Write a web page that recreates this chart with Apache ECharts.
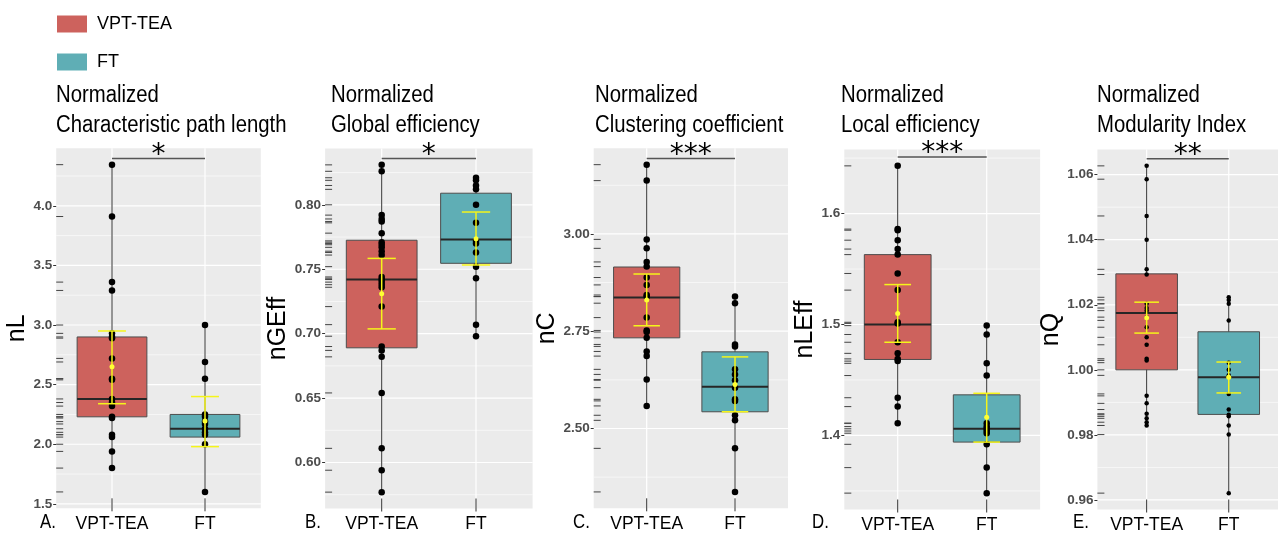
<!DOCTYPE html>
<html><head><meta charset="utf-8">
<script src="https://cdn.jsdelivr.net/npm/echarts@6/dist/echarts.min.js"></script>
<style>html,body{margin:0;padding:0;background:#fff}#c{width:1278px;height:538px}</style>
</head><body><div id="c"></div>
<script>
// ---------- DATA ----------
const groups = ['VPT-TEA', 'FT'];
const panelLetters = ['A.', 'B.', 'C.', 'D.', 'E.'];
const panelTitles = [
  ['Normalized', 'Characteristic path length'],
  ['Normalized', 'Global efficiency'],
  ['Normalized', 'Clustering coefficient'],
  ['Normalized', 'Local efficiency'],
  ['Normalized', 'Modularity Index']
];
const yNames = ['nL', 'nGEff', 'nC', 'nLEff', 'nQ'];
const sigStars = ['*', '*', '***', '***', '**'];

// A: nL
const nL_VPT = [4.345, 3.91, 3.36, 3.29, 2.93, 2.90, 2.89, 2.72, 2.55, 2.54, 2.38, 2.35, 2.32, 2.23, 2.22, 2.08, 2.06, 1.94, 1.80];
const nL_FT = [3.00, 2.69, 2.55, 2.25, 2.23, 2.19, 2.17, 2.13, 2.10, 2.08, 2.00, 1.60];
const nL_box = [[1.80, 2.23, 2.38, 2.90, 4.345], [1.60, 2.06, 2.13, 2.25, 3.00]]; // min,q1,med,q3,max
const nL_mean = [[2.65, 2.34, 2.95], [2.195, 1.98, 2.40]]; // mean, lo, hi
const nL_ticks = [1.5, 2.0, 2.5, 3.0, 3.5, 4.0];
const nL_sigY = 4.396;

// B: nGEff
const nGEff_VPT = [0.831, 0.826, 0.792, 0.789, 0.787, 0.778, 0.771, 0.769, 0.767, 0.764, 0.761, 0.744, 0.742, 0.740, 0.738, 0.736, 0.721, 0.690, 0.687, 0.682, 0.654, 0.611, 0.594, 0.577];
const nGEff_FT = [0.821, 0.819, 0.815, 0.812, 0.800, 0.786, 0.772, 0.770, 0.763, 0.752, 0.743, 0.707, 0.698];
const nGEff_box = [[0.577, 0.689, 0.742, 0.7725, 0.831], [0.698, 0.7546, 0.773, 0.809, 0.821]];
const nGEff_mean = [[0.731, 0.7037, 0.7584], [0.7736, 0.7533, 0.7944]];
const nGEff_ticks = [0.60, 0.65, 0.70, 0.75, 0.80];
const nGEff_sigY = 0.836;

// C: nC
const nC_VPT = [3.178, 3.137, 2.986, 2.963, 2.928, 2.916, 2.888, 2.869, 2.843, 2.839, 2.785, 2.752, 2.748, 2.733, 2.698, 2.686, 2.626, 2.558];
const nC_FT = [2.839, 2.822, 2.716, 2.711, 2.652, 2.639, 2.624, 2.605, 2.575, 2.571, 2.534, 2.521, 2.449, 2.337];
const nC_box = [[2.558, 2.733, 2.8365, 2.915, 3.178], [2.337, 2.543, 2.607, 2.697, 2.839]];
const nC_mean = [[2.8305, 2.764, 2.897], [2.613, 2.543, 2.684]];
const nC_ticks = [2.50, 2.75, 3.00];
const nC_sigY = 3.194;

// D: nLEff
const nLEff_VPT = [1.643, 1.586, 1.585, 1.576, 1.568, 1.563, 1.546, 1.531, 1.502, 1.501, 1.484, 1.474, 1.469, 1.467, 1.434, 1.426, 1.411];
const nLEff_FT = [1.499, 1.491, 1.465, 1.454, 1.411, 1.408, 1.406, 1.404, 1.402, 1.392, 1.371, 1.348];
const nLEff_box = [[1.411, 1.4685, 1.500, 1.563, 1.643], [1.348, 1.394, 1.406, 1.4366, 1.499]];
const nLEff_mean = [[1.510, 1.484, 1.536], [1.4165, 1.394, 1.438]];
const nLEff_ticks = [1.4, 1.5, 1.6];
const nLEff_sigY = 1.651;

// E: nQ
const nQ_VPT = [1.0627, 1.0586, 1.0473, 1.040, 1.0309, 1.0293, 1.0203, 1.019, 1.0182, 1.0162, 1.0131, 1.010, 1.0077, 1.0034, 1.0029, 0.992, 0.9897, 0.9865, 0.9851, 0.9839, 0.9829];
const nQ_FT = [1.0223, 1.0215, 1.0203, 1.0152, 1.0022, 1.000, 0.9983, 0.9926, 0.9878, 0.9862, 0.9857, 0.9829, 0.9801, 0.9621];
const nQ_box = [[0.9829, 1.000, 1.0175, 1.0295, 1.0627], [0.9621, 0.9863, 0.9977, 1.0117, 1.0223]];
const nQ_mean = [[1.016, 1.0113, 1.0208], [0.9977, 0.9929, 1.0024]];
const nQ_ticks = [0.96, 0.98, 1.00, 1.02, 1.04, 1.06];
const nQ_sigY = 1.0649;

// ---------- LAYOUT / STYLE ----------
const SANS = '"Liberation Sans", Arial, sans-serif';
const COLORS = ['#CD625D', '#5FAEB5'];
const layout = [
  {left: 56.2, width: 204.6, top: 148.3, nameGap: 24, dec: 1, titleLeft: 56, letterLeft: 40, pt: 6.5},
  {left: 325.1, width: 207.5, top: 148.5, nameGap: 34, dec: 2, titleLeft: 331, letterLeft: 305, pt: 6.5},
  {left: 593.7, width: 194.3, top: 148.3, nameGap: 30, dec: 2, titleLeft: 595, letterLeft: 573, pt: 6.5},
  {left: 844.3, width: 195.8, top: 149.5, nameGap: 22, dec: 1, titleLeft: 841, letterLeft: 812, pt: 6.5},
  {left: 1097.4, width: 193, top: 149.5, nameGap: 31, dec: 2, titleLeft: 1097, letterLeft: 1073, pt: 4.5}
];
const PH = 360;

const panels = [
  {vpt: nL_VPT, ft: nL_FT, box: nL_box, mean: nL_mean, ticks: nL_ticks, sig: nL_sigY},
  {vpt: nGEff_VPT, ft: nGEff_FT, box: nGEff_box, mean: nGEff_mean, ticks: nGEff_ticks, sig: nGEff_sigY},
  {vpt: nC_VPT, ft: nC_FT, box: nC_box, mean: nC_mean, ticks: nC_ticks, sig: nC_sigY},
  {vpt: nLEff_VPT, ft: nLEff_FT, box: nLEff_box, mean: nLEff_mean, ticks: nLEff_ticks, sig: nLEff_sigY},
  {vpt: nQ_VPT, ft: nQ_FT, box: nQ_box, mean: nQ_mean, ticks: nQ_ticks, sig: nQ_sigY}
];

const chart = echarts.init(document.getElementById('c'), null, {renderer: 'canvas'});
const option = {
  animation: false,
  backgroundColor: '#fff',
  grid: [], xAxis: [], yAxis: [], series: [], graphic: [],
  legend: {
    data: groups, orient: 'vertical', left: 57, top: 15, padding: 0,
    icon: 'rect', itemWidth: 30, itemHeight: 17, itemGap: 20,
    textStyle: {fontSize: 18, lineHeight: 17, fontFamily: SANS, color: '#000', padding: [0, 0, 0, 5]},
    selectedMode: false
  }
};

function gridRender(params, api) {
  const cs = params.coordSys;
  const orient = api.value(0), v = api.value(1), w = api.value(2);
  if (orient === 0) {
    const y = api.coord([1, v])[1];
    return {type: 'line', silent: true, shape: {x1: cs.x, y1: y, x2: cs.x + cs.width, y2: y}, style: {stroke: '#fff', lineWidth: w}};
  }
  const x = api.coord([v, 0])[0];
  return {type: 'line', silent: true, shape: {x1: x, y1: cs.y, x2: x, y2: cs.y + cs.height}, style: {stroke: '#fff', lineWidth: w}};
}
function rugRender(params, api) {
  const cs = params.coordSys;
  const y = api.coord([1, api.value(1)])[1];
  return {type: 'line', silent: true, shape: {x1: cs.x, y1: y, x2: cs.x + 7, y2: y}, style: {stroke: '#444', lineWidth: 1}};
}
function xtickRender(params, api) {
  const cs = params.coordSys;
  const x = api.coord([api.value(0), 0])[0];
  const b = cs.y + cs.height;
  return {type: 'line', silent: true, shape: {x1: x, y1: b - 10, x2: x, y2: b + 3}, style: {stroke: '#333', lineWidth: 1}};
}
function boxRender(params, api) {
  const x = api.value(0);
  const mn = api.value(1), q1 = api.value(2), md = api.value(3), q3 = api.value(4), mx = api.value(5);
  const half = 0.375;
  const a = api.coord([x, mn]), b = api.coord([x, mx]);
  const tl = api.coord([x - half, q3]), br = api.coord([x + half, q1]);
  const ml = api.coord([x - half, md]), mr = api.coord([x + half, md]);
  return {type: 'group', children: [
    {type: 'line', shape: {x1: a[0], y1: a[1], x2: b[0], y2: b[1]}, style: {stroke: '#333', lineWidth: 1}},
    {type: 'rect', shape: {x: tl[0], y: tl[1], width: br[0] - tl[0], height: br[1] - tl[1]}, style: {fill: api.visual('color'), stroke: '#4d4d4d', lineWidth: 1}},
    {type: 'line', shape: {x1: ml[0], y1: ml[1], x2: mr[0], y2: mr[1]}, style: {stroke: '#262626', lineWidth: 2}}
  ]};
}
function errRender(params, api) {
  const x = api.value(0), m = api.value(1), lo = api.value(2), hi = api.value(3);
  const cap = 0.15;
  const pl = api.coord([x, lo]), ph = api.coord([x, hi]), pm = api.coord([x, m]);
  const l1 = api.coord([x - cap, lo]), r1 = api.coord([x + cap, lo]);
  const l2 = api.coord([x - cap, hi]), r2 = api.coord([x + cap, hi]);
  const st = {stroke: '#F5F51A', lineWidth: 1.5};
  return {type: 'group', children: [
    {type: 'line', shape: {x1: pl[0], y1: pl[1], x2: ph[0], y2: ph[1]}, style: st},
    {type: 'line', shape: {x1: l1[0], y1: l1[1], x2: r1[0], y2: r1[1]}, style: st},
    {type: 'line', shape: {x1: l2[0], y1: l2[1], x2: r2[0], y2: r2[1]}, style: st},
    {type: 'circle', shape: {cx: pm[0], cy: pm[1], r: 2.5}, style: {fill: '#FFFF33'}}
  ]};
}
function makeSigRender(text) {
  return function (params, api) {
    const a = api.coord([api.value(0), api.value(2)]);
    const b = api.coord([api.value(1), api.value(2)]);
    return {type: 'group', children: [
      {type: 'line', shape: {x1: a[0], y1: a[1], x2: b[0], y2: b[1]}, style: {stroke: '#555', lineWidth: 1.5}},
      {type: 'text', x: (a[0] + b[0]) / 2, y: a[1] + 11, style: {text: text, fill: '#000', fontSize: 28, fontFamily: 'DejaVu Sans, sans-serif', align: 'center', verticalAlign: 'bottom'}}
    ]};
  };
}

panels.forEach((p, i) => {
  const L = layout[i];
  const all = p.vpt.concat(p.ft);
  const dmin = Math.min(...all), dmax = Math.max(...all);
  const pad = (dmax - dmin) * 0.05;
  const ymin = dmin - pad, ymax = dmax + pad;
  option.grid.push({left: L.left, top: L.top, width: L.width, height: PH, show: true, backgroundColor: '#EBEBEB', borderWidth: 0});
  option.xAxis.push({
    gridIndex: i, type: 'value', min: 0.4, max: 2.6,
    axisLine: {show: false}, axisTick: {show: false}, splitLine: {show: false},
    axisLabel: {customValues: [1, 2], formatter: v => groups[Math.round(v) - 1], fontSize: 17.5, fontFamily: SANS, color: '#000', margin: 7}
  });
  option.yAxis.push({
    gridIndex: i, type: 'value', min: ymin, max: ymax,
    axisLine: {show: false}, splitLine: {show: false},
    axisTick: {show: true, customValues: p.ticks, length: 3, lineStyle: {color: '#333'}},
    axisLabel: {customValues: p.ticks, formatter: v => v.toFixed(L.dec), fontSize: 13.5, fontWeight: 'bold', color: '#4D4D4D', fontFamily: SANS, margin: 4},
    name: yNames[i], nameLocation: 'middle', nameGap: L.nameGap,
    nameTextStyle: {fontSize: 25, fontFamily: SANS, color: '#000'}
  });
  const step = p.ticks[1] - p.ticks[0];
  const gl = [];
  p.ticks.forEach(t => gl.push([0, t, 1.2]));
  for (let k = -1; k < p.ticks.length; k++) {
    const mv = p.ticks[0] + (k + 0.5) * step;
    if (mv > ymin && mv < ymax) gl.push([0, mv, 0.6]);
  }
  gl.push([1, 1, 1.2], [1, 2, 1.2]);
  const base = {coordinateSystem: 'cartesian2d', xAxisIndex: i, yAxisIndex: i, silent: true};
  option.series.push(Object.assign({type: 'custom', name: 'grid' + i, z: 0, renderItem: gridRender, data: gl}, base));
  option.series.push(Object.assign({type: 'custom', name: 'rug' + i, z: 1, renderItem: rugRender, data: all.map(v => [1, v])}, base));
  option.series.push(Object.assign({type: 'custom', name: 'xt' + i, z: 1, renderItem: xtickRender, data: [[1, 0], [2, 0]], clip: false}, base));
  groups.forEach((g, gi) => {
    option.series.push(Object.assign({type: 'custom', name: g, z: 2, itemStyle: {color: COLORS[gi]}, renderItem: boxRender,
      data: [[gi + 1].concat(p.box[gi])]}, base));
  });
  option.series.push(Object.assign({type: 'scatter', name: 'pts' + i, z: 3, symbolSize: L.pt, itemStyle: {color: '#000', opacity: 1},
    data: p.vpt.map(v => [1, v]).concat(p.ft.map(v => [2, v]))}, base));
  option.series.push(Object.assign({type: 'custom', name: 'err' + i, z: 4, renderItem: errRender,
    data: p.mean.map((m, gi) => [gi + 1].concat(m))}, base));
  option.series.push(Object.assign({type: 'custom', name: 'sig' + i, z: 4, clip: false, renderItem: makeSigRender(sigStars[i]),
    data: [[1, 2, p.sig]]}, base));

  panelTitles[i].forEach((line, li) => {
    option.graphic.push({type: 'text', x: L.titleLeft, y: 96 + li * 30, scaleX: 0.865, silent: true,
      style: {text: line, fill: '#000', fontSize: 23.5, fontFamily: SANS, verticalAlign: 'middle'}});
  });
  option.graphic.push({type: 'text', x: L.letterLeft, y: 522, scaleX: 0.8, silent: true,
    style: {text: panelLetters[i], fill: '#000', fontSize: 21, fontFamily: SANS, verticalAlign: 'middle'}});
});

chart.setOption(option);
</script>
</body></html>
